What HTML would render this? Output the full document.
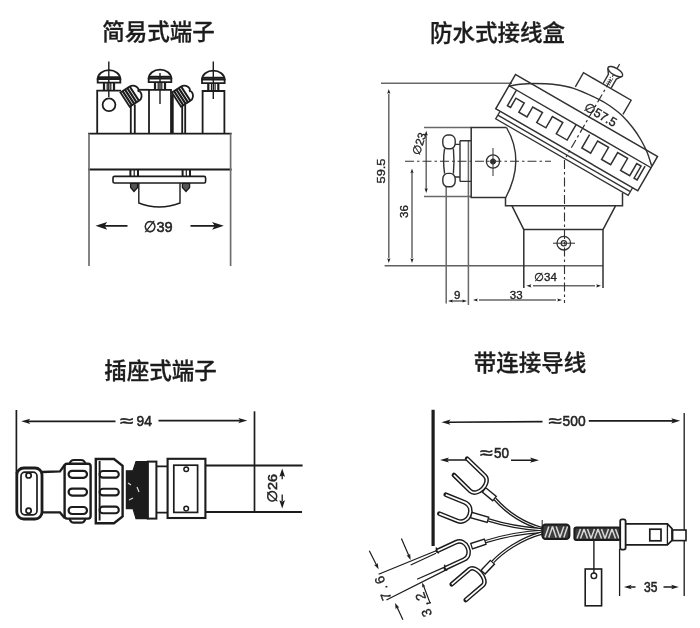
<!DOCTYPE html>
<html><head><meta charset="utf-8"><title>端子</title>
<style>
html,body{margin:0;padding:0;background:#fff;}
body{width:700px;height:628px;overflow:hidden;position:relative;}
svg{position:absolute;left:0;top:0;display:block;}
.t{font-family:"Liberation Sans","Noto Sans CJK SC",sans-serif;font-size:22.5px;font-weight:500;fill:#1c1c1c;stroke:#1c1c1c;stroke-width:0.3px;}
.d{font-family:"Liberation Sans","DejaVu Sans",sans-serif;font-size:14px;fill:#222;stroke:#222;stroke-width:0.55px;}
.s{font-family:"Liberation Sans","DejaVu Sans",sans-serif;font-size:11.5px;fill:#222;stroke:#222;stroke-width:0.35px;}
</style></head><body>
<svg width="700" height="628" viewBox="0 0 700 628">
<defs>
<filter id="bl" x="-5%" y="-5%" width="110%" height="110%"><feGaussianBlur stdDeviation="0.45"/></filter>
<path id="ah" d="M0,0 L-9,-2.6 L-7,0 L-9,2.6 Z" fill="#1c1c1c" stroke="none"/>
<path id="ahs" d="M0,0 L-6,-2 L-5,0 L-6,2 Z" fill="#1c1c1c" stroke="none"/>
<g id="screw">
 <path d="M-11.3,8 A11.3,8.8 0 0 1 11.3,8 Z" fill="#fff"/>
 <path d="M-11.3,8 H11.3 V11.6 H-11.3 Z" fill="#fff"/>
 <path d="M-5,12 V19.5 M5,12 V19.5" stroke-width="2.2"/>
 <path d="M-1.8,12 V19.5 M1.8,12 V19.5" stroke-width="1.2"/>
 <path d="M-11,6.2 H11" stroke-width="1.9"/>
</g>
</defs>
<rect width="700" height="628" fill="#fff"/>
<g filter="url(#bl)">
<!-- TITLES -->
<text class="t" x="158.6" y="40" text-anchor="middle">简易式端子</text>
<text class="t" x="497.6" y="40.8" text-anchor="middle">防水式接线盒</text>
<text class="t" x="160.4" y="379.4" text-anchor="middle">插座式端子</text>
<text class="t" x="530" y="371.2" text-anchor="middle">带连接导线</text>

<!-- ============ TOP LEFT ============ -->
<g id="tl" stroke="#1c1c1c" stroke-width="1.8" fill="none" stroke-linecap="butt" stroke-linejoin="miter">
 <path d="M88.2,133.6 H231.6 M88.2,169.5 H231.6" stroke-width="1.9"/>
 <path d="M89,133.6 V266 M230.6,133.6 V266" stroke="#707070" stroke-width="1.7"/>
 <!-- posts -->
 <path d="M97.2,133.8 V90.6 H121"/>
 <path d="M130.8,133.8 V106 M134.8,133.8 V104.5"/>
 <path d="M149,133.8 V89.8 H171 V133.8 M172.8,133.8 V95"/>
 <path d="M139,89.8 H149"/>
 <path d="M182.2,133.8 V106 M185.2,133.8 V104.5"/>
 <path d="M202.6,133.8 V91 H224.4 V133.8"/>
 <circle cx="109" cy="104.8" r="6.4"/>
 <!-- screws -->
 <use href="#screw" x="109" y="71"/>
 <use href="#screw" x="160" y="70.5"/>
 <use href="#screw" x="213.3" y="71.5"/>
 <path d="M108.8,61.5 V97 M160,73 V104 M213.3,61.5 V99" stroke-width="1.4"/>
 <!-- tilted screws -->
 <g transform="translate(131.8,95.3) rotate(-33)">
  <path d="M-8,-8.5 H3 C7,-8.5 9,-5 9,-2.5 C9,-1 8,0 7,0 C8,0 9,1 9,2.5 C9,5 7,8.5 3,8.5 H-8 Z" fill="#fff"/>
  <path d="M-5.4,-8.5 V8.5 M-2.6,-8.5 V8.5 M0.2,-8.5 V8.5 M3,-8.5 V8.5" stroke-width="2.1"/>
 </g>
 <g transform="translate(183.2,95.3) rotate(-33)">
  <path d="M-8,-8.5 H3 C7,-8.5 9,-5 9,-2.5 C9,-1 8,0 7,0 C8,0 9,1 9,2.5 C9,5 7,8.5 3,8.5 H-8 Z" fill="#fff"/>
  <path d="M-5.4,-8.5 V8.5 M-2.6,-8.5 V8.5 M0.2,-8.5 V8.5 M3,-8.5 V8.5" stroke-width="2.1"/>
 </g>
 <!-- under plate -->
 <path d="M130.6,183 V187.5 L134,191.5 L137.6,187.5 V183 Z M182.4,183 V187.5 L186,191.5 L189.6,187.5 V183 Z" stroke-width="1.3" fill="#555"/>
 <path d="M130.4,170 V176.4 M138,170 V176.4 M182.6,170 V176.4 M190,170 V176.4" stroke-width="2"/>
 <rect x="113" y="176.4" width="92.6" height="6.6" rx="1.5" fill="#fff" stroke-width="1.6"/>
 <path d="M138.8,183 V203 Q159,211 180,203 V183" stroke-width="1.4"/>
 <path d="M134.2,170 V176 M186.3,170 V176" stroke-width="1.2"/>
 <!-- dimension -->
 <path d="M103,225.8 H127.5 M190.5,225.8 H216"/>
 <use href="#ah" transform="translate(95.5,225.8) rotate(180) scale(1.3,1.5)"/>
 <use href="#ah" transform="translate(223.8,225.8) scale(1.3,1.5)"/>
</g>
<text class="d" x="158.2" y="231.6" text-anchor="middle" textLength="29" lengthAdjust="spacingAndGlyphs" style="font-size:15.5px">∅39</text>

<!-- ============ TOP RIGHT ============ -->
<g id="tr" stroke="#303030" stroke-width="1.3" fill="none">
 <!-- extension / dimension lines -->
 <path d="M381,83.3 H512" stroke="#686868" stroke-width="1.5"/>
 <path d="M384.6,265.8 H603" stroke="#606060" stroke-width="1.6"/>
 <path d="M388.8,94 V258 M412,173 V258 M426.2,135 V189" stroke="#686868" stroke-width="1.5"/>
 <use href="#ahs" transform="translate(388.8,89) rotate(-90) scale(0.8)"/>
 <use href="#ahs" transform="translate(388.8,263) rotate(90) scale(0.8)"/>
 <use href="#ahs" transform="translate(412,168.5) rotate(-90) scale(0.8)"/>
 <use href="#ahs" transform="translate(412,263) rotate(90) scale(0.8)"/>
 <use href="#ahs" transform="translate(426.2,130.8) rotate(-90) scale(0.8)"/>
 <use href="#ahs" transform="translate(426.2,193) rotate(90) scale(0.8)"/>
 <path d="M424,127.4 H471 M424,196.6 H471" stroke="#686868" stroke-width="1.5"/>
 <path d="M446.2,186 V303.5 M468.4,140.7 V305" stroke="#686868" stroke-width="1.5"/>
 <!-- 9 / 33 / 34 dims -->
 <path d="M452,301 H463 M479,300 H556 M533,285.8 H595" stroke="#686868" stroke-width="1.5"/>
 <use href="#ahs" transform="translate(448,301) rotate(180) scale(0.8)"/>
 <use href="#ahs" transform="translate(467,301) scale(0.8)"/>
 <use href="#ahs" transform="translate(473,300) rotate(180) scale(0.8)"/>
 <use href="#ahs" transform="translate(562,300) scale(0.8)"/>
 <use href="#ahs" transform="translate(526.5,285.8) rotate(180) scale(0.8)"/>
 <use href="#ahs" transform="translate(601,285.8) scale(0.8)"/>
 <!-- centre lines -->
 <path d="M405,161.2 H551" stroke-width="1.1" stroke-dasharray="9 3 2.5 3"/>
 <path d="M564.5,160 V303" stroke-width="1.1" stroke-dasharray="9 3 2.5 3"/>
 <!-- side entry body -->
 <path d="M506.5,127.5 H471.2 V197.5 H505.5 V205.8 H622.5 V193" stroke-width="1.5"/>
 <path d="M506.5,127.5 Q525.5,160 505.8,197.5" stroke-width="1.4"/>
 <!-- nut -->
 <rect x="442.8" y="135" width="12.4" height="13.8" rx="5" ry="5.5" stroke-width="1.4"/>
 <rect x="442.8" y="173.4" width="12.4" height="13.4" rx="5" ry="5.5" stroke-width="1.4"/>
 <path d="M444.6,148.5 Q442.6,161 444.6,173.6 M453.4,148.5 Q454.6,161 453.4,173.6" stroke-width="1.4"/>
 <path d="M455,144.4 H460 M455,177 H460 M460,140.7 V181.4 M460,140.7 H471 M460,181.4 H471" stroke-width="1.4"/>
 <!-- screw on side -->
 <circle cx="493" cy="161.5" r="6.6" stroke-width="1.3"/>
 <circle cx="493" cy="161.5" r="2.6" fill="#333" stroke-width="1"/>
 <path d="M493,148 V176" stroke-width="1"/>
 <!-- cone & lower cylinder -->
 <path d="M512,205.8 L523.8,229.6 M615.5,205.8 L603,229.6 M523.8,229.6 H603 M523.8,229.6 V288 M603,229.6 V288" stroke-width="1.5"/>
 <circle cx="563.8" cy="243.2" r="6.8" stroke-width="1.3"/>
 <circle cx="563.8" cy="243.2" r="2.6" stroke-width="1.2"/>
 <path d="M553,243.2 H575" stroke-width="1"/>
 <path d="M508.5,86.3 C510.4,86.0 515.6,84.8 520.0,84.3 C524.4,83.8 529.5,83.5 535.0,83.5 C540.5,83.5 546.5,83.5 552.9,84.3 C559.3,85.1 566.0,85.8 573.6,88.3 C581.2,90.8 592.7,96.3 598.8,99.3 C604.9,102.2 606.0,103.2 610.0,106.0 C614.0,108.8 618.7,112.3 622.5,116.0 C626.3,119.7 629.9,124.0 633.0,128.0 C636.1,132.0 638.7,136.0 641.0,140.0 C643.3,144.0 645.2,147.7 647.0,152.0 C648.8,156.3 650.8,163.4 651.6,165.7" stroke-width="1.4"/>
 <!-- LID (rotated 30deg) -->
 <g transform="translate(515.5,74.5) rotate(30)">
  <!-- gasket -->
  <path d="M5,39.5 V48.3 H158 V39.5 M5,44 H158" fill="none" stroke-width="1.3"/>
  <!-- axis -->
  <path d="M85,-61 V46" stroke-width="1.2" stroke-dasharray="9 3 2.5 3"/>
  <!-- boss -->
  <path d="M58,-19.2 V-35.5 H113 V-19.2" stroke-width="1.4"/>
  <!-- screw -->
  <path d="M80.4,-36 V-46.5 L77,-51.5 M89.6,-36 V-46.5 L93,-51.5" stroke-width="1.4"/>
  <path d="M83.6,-37.5 V-46 M86.4,-37.5 V-46" stroke-width="1" stroke-dasharray="1.2 1"/>
  <ellipse cx="85" cy="-52.4" rx="8.3" ry="3.5" fill="#fff" stroke-width="1.5"/>
  <!-- dome -->
  <!-- lid -->
  <rect x="0" y="0" width="164" height="39.5" stroke-width="1.5"/>
  <path d="M0,13 H164" stroke-width="1.4"/>
  <path d="M8.6,13 V31 H12.2 V20.3 H21.8 V31 H31.2 V19.5 H42.4 V31 H53 V18 H65 V31 H77.5 V13" stroke-width="1.5"/>
  <path d="M94.2,15 V30.5 H104.4 V16.5 H117 V30.5 H127.5 V16.5 H139 V30.5 H149.5 V16.5 H154.5 V30.5 H158 V14.5" stroke-width="1.5"/>
 </g>
</g>
<g>
 <text class="s" transform="translate(385.3,171) rotate(-90)" text-anchor="middle" textLength="25" lengthAdjust="spacingAndGlyphs">59.5</text>
 <text class="s" transform="translate(408.2,211.5) rotate(-90)" text-anchor="middle">36</text>
 <text class="s" transform="translate(423,145) rotate(-72)" text-anchor="middle" style="font-size:11.5px">∅23</text>
 <text class="s" x="457.2" y="299.2" text-anchor="middle">9</text>
 <text class="s" x="516.2" y="299" text-anchor="middle">33</text>
 <text class="s" x="545.5" y="281.2" text-anchor="middle">∅34</text>
 <text class="s" transform="translate(598.6,118.4) rotate(30)" text-anchor="middle" style="font-size:12.5px">∅57.5</text>
</g>
<!--TR-->
<!-- ============ BOTTOM LEFT ============ -->
<g id="bl" stroke="#1c1c1c" stroke-width="1.5" fill="none">
 <path d="M16.4,410 V474" stroke-width="1.7"/>
 <path d="M254.5,411.3 V511.8" stroke-width="1.7"/>
 <path d="M27,421.3 H115.5 M158.5,420.6 H241" stroke-width="1.8"/>
 <use href="#ah" transform="translate(21.2,421.3) rotate(180)"/>
 <use href="#ah" transform="translate(247.3,420.6)"/>
 <!-- tube -->
 <path d="M205.5,465.6 H302.6 M205.5,511.9 H302" stroke-width="2"/>
 <!-- box -->
 <rect x="167.6" y="458.8" width="37.8" height="59.2" stroke-width="2.1" fill="#fff"/>
 <rect x="173.8" y="465.2" width="23.8" height="47.2" stroke-width="1.7"/>
 <circle cx="186.2" cy="469.3" r="2.3" stroke-width="1.5"/>
 <circle cx="186.2" cy="508.6" r="2.3" stroke-width="1.5"/>
 <!-- short tube between band and box -->
 <path d="M156.5,466.4 H167.5 M156.5,512.6 H167.5" stroke-width="1.8"/>
 <!-- white band -->
 <rect x="147.8" y="461.6" width="8.6" height="57" stroke-width="2" fill="#fff"/>
 <!-- dark section -->
 <path d="M126.4,470.8 H133 L136,461.6 H147.8 V518.6 H136 L133,508.6 H126.4 Z" fill="#1e1a1a" stroke-width="1.2"/>
 <path d="M128,483 L131,485 M129,500 L133,498 M137,487 L139,492" stroke="#ddd" stroke-width="1.2"/>
 <!-- nut 2 -->
 <path d="M95.8,459 H114 L122.6,465.8 V516.4 L114,523.2 H95.8 Z" stroke-width="2.4" fill="#fff"/>
 <path d="M99.6,461 V520.5" stroke-width="1.9"/>
 <rect x="99.6" y="471" width="19.2" height="6.6" rx="3.3" stroke-width="2.1"/>
 <rect x="99.6" y="488.8" width="19.2" height="6.6" rx="3.3" stroke-width="2.1"/>
 <rect x="99.6" y="506.6" width="19.2" height="6.6" rx="3.3" stroke-width="2.1"/>
 <!-- nut 1 -->
 <path d="M69.5,464 Q70.5,460 74,460 H81 Q84.5,460 85.5,464 M69.5,518.4 Q70.5,522.6 74,522.6 H81 Q84.5,522.6 85.5,518.4" stroke-width="2.2" fill="#fff"/>
 <rect x="64.6" y="463.8" width="26" height="54.8" rx="2.5" stroke-width="2.4" fill="#fff"/>
 <rect x="68.6" y="470.8" width="18.4" height="7" rx="3.5" stroke-width="2.2"/>
 <rect x="68.6" y="488.6" width="18.4" height="7" rx="3.5" stroke-width="2.2"/>
 <rect x="68.6" y="507" width="18.4" height="7" rx="3.5" stroke-width="2.2"/>
 <!-- neck -->
 <path d="M42,472 L60,471.4 L64.6,465 M42,512.4 L60,512.4 L64.6,518" stroke-width="2.3"/>
 <!-- clamp -->
 <rect x="16.8" y="468" width="25.2" height="51" rx="7" ry="7" stroke-width="2.8" fill="#fff"/>
 <rect x="21" y="472.2" width="16" height="42.6" rx="4" stroke-width="1.7"/>
 <circle cx="28.6" cy="475.4" r="2.6" stroke-width="1.7"/>
 <circle cx="28.6" cy="510.8" r="2.6" stroke-width="1.7"/>
 <!-- 26 arrows -->
 <path d="M282.2,474 V479.2 M282.2,494.6 V501" stroke-width="1.3"/>
 <use href="#ahs" transform="translate(282.2,468.4) rotate(-90) scale(1.4)"/>
 <use href="#ahs" transform="translate(282.2,508.6) rotate(90) scale(1.4)"/>
</g>
<g>
 <text class="d" x="120" y="426" style="font-size:15px" textLength="13" lengthAdjust="spacingAndGlyphs">≈</text>
 <text class="d" x="136.6" y="426" style="font-size:15px" textLength="15.4" lengthAdjust="spacingAndGlyphs">94</text>
 <text class="d" transform="translate(276.8,488.2) rotate(-90)" text-anchor="middle" textLength="28.4" lengthAdjust="spacingAndGlyphs" style="font-size:13.5px">∅26</text>
</g>
<!--BL-->
<!-- ============ BOTTOM RIGHT ============ -->
<g id="br" stroke="#1c1c1c" stroke-width="1.4" fill="none">
 <path d="M433.1,409.8 V546" stroke-width="3.2"/>
 <path d="M684.2,413 V596 M619.6,549 V596" stroke-width="1.3"/>
 <path d="M448,422.2 L542.5,421.6 M588.8,420.9 H674" stroke-width="1.6"/>
 <use href="#ah" transform="translate(441.5,422.2) rotate(180)"/>
 <use href="#ah" transform="translate(680.2,420.8)"/>
 <path d="M446,460 H466 M511,460.2 H533" stroke-width="1.4"/>
 <use href="#ah" transform="translate(440,460) rotate(180)"/>
 <use href="#ah" transform="translate(539,460.2)"/>
 <path d="M630,587 H635.5 M663.5,587 H673" stroke-width="1.4"/>
 <use href="#ah" transform="translate(624,587) rotate(180) scale(0.85)"/>
 <use href="#ah" transform="translate(678.8,587) scale(0.85)"/>
 <path d="M437.9,550 L378.6,574.3 M436,553.2 L410.7,565 M445.7,566.6 L417.1,579.3 M446.6,569.6 L386.4,600" stroke-width="1.2"/>
 <path d="M436,547.5 L438.6,553.5 M444.4,564.8 L447,570.6" stroke-width="1.4"/>
 <path d="M369.3,550.7 L376.6,565.3 M401.4,538.6 L409,556 M402.9,619.7 L397,607 M423.6,586 L430,602.9 M427,603.6 L431,602.6" stroke-width="1.2"/>
 <use href="#ahs" transform="translate(378.6,569.3) rotate(63)"/>
 <use href="#ahs" transform="translate(410.7,560) rotate(66)"/>
 <use href="#ahs" transform="translate(395,602.9) rotate(-115)"/>
 <use href="#ahs" transform="translate(422.1,582.6) rotate(-111) scale(0.8)"/>
 <g stroke-linejoin="round">
  <path d="M495,499 C503,508 518,522 542,528.6" stroke="#1c1c1c" stroke-width="3.5" stroke-linecap="butt"/><path d="M495,499 C503,508 518,522 542,528.6" stroke="#fff" stroke-width="1.1" stroke-linecap="butt"/>
  <path d="M488.6,520 C500,523.6 520,528 542,529.8" stroke="#1c1c1c" stroke-width="3.5" stroke-linecap="butt"/><path d="M488.6,520 C500,523.6 520,528 542,529.8" stroke="#fff" stroke-width="1.1" stroke-linecap="butt"/>
  <path d="M485.7,541.6 C500,537 520,532.6 542,531.4" stroke="#1c1c1c" stroke-width="3.5" stroke-linecap="butt"/><path d="M485.7,541.6 C500,537 520,532.6 542,531.4" stroke="#fff" stroke-width="1.1" stroke-linecap="butt"/>
  <path d="M492.9,561.8 C502,552 520,539 542,533" stroke="#1c1c1c" stroke-width="3.5" stroke-linecap="butt"/><path d="M492.9,561.8 C502,552 520,539 542,533" stroke="#fff" stroke-width="1.1" stroke-linecap="butt"/>
  <path d="M467.1,458.6 L484.7,475.7 C491.9,482.7 477.3,497.8 470.1,490.8 L453.9,475" stroke="#1c1c1c" stroke-width="4.6" stroke-linecap="round"/><path d="M467.1,458.6 L484.7,475.7 C491.9,482.7 477.3,497.8 470.1,490.8 L453.9,475" stroke="#fff" stroke-width="1.7" stroke-linecap="butt"/>
  <path d="M445.7,494.7 L464.7,502.4 C476.2,507.1 468.7,525.5 457.2,520.8 L439.3,513.6" stroke="#1c1c1c" stroke-width="4.6" stroke-linecap="round"/><path d="M445.7,494.7 L464.7,502.4 C476.2,507.1 468.7,525.5 457.2,520.8 L439.3,513.6" stroke="#fff" stroke-width="1.7" stroke-linecap="butt"/>
  <path d="M437.7,550.7 L456,542.2 C466,537.5 474.1,554.9 464.1,559.5 L445.7,568.1" stroke="#1c1c1c" stroke-width="4.6" stroke-linecap="round"/><path d="M437.7,550.7 L456,542.2 C466,537.5 474.1,554.9 464.1,559.5 L445.7,568.1" stroke="#fff" stroke-width="1.7" stroke-linecap="butt"/>
  <path d="M451.7,584.3 L469.3,569.3 C475.4,564.1 489,580.1 482.9,585.3 L465.7,600" stroke="#1c1c1c" stroke-width="4.6" stroke-linecap="round"/><path d="M451.7,584.3 L469.3,569.3 C475.4,564.1 489,580.1 482.9,585.3 L465.7,600" stroke="#fff" stroke-width="1.7" stroke-linecap="butt"/>
  <path d="M483.6,489.6 L495,499" stroke="#1c1c1c" stroke-width="7" stroke-linecap="butt"/><path d="M484.6,490.4 L494.0,498.2" stroke="#fff" stroke-width="4.1" stroke-linecap="butt"/>
  <path d="M470.6,514.9 L488.6,520" stroke="#1c1c1c" stroke-width="7" stroke-linecap="butt"/><path d="M471.9,515.3 L487.3,519.6" stroke="#fff" stroke-width="4.1" stroke-linecap="butt"/>
  <path d="M471,546.4 L485.8,541.5" stroke="#1c1c1c" stroke-width="7" stroke-linecap="butt"/><path d="M472.2,546.0 L484.6,541.9" stroke="#fff" stroke-width="4.1" stroke-linecap="butt"/>
  <path d="M482.6,572.6 L492.9,561.8" stroke="#1c1c1c" stroke-width="7" stroke-linecap="butt"/><path d="M483.5,571.7 L492.0,562.7" stroke="#fff" stroke-width="4.1" stroke-linecap="butt"/>
 </g>
 <rect x="542.4" y="524.6" width="27" height="14.4" rx="3.2" fill="#3c3c3c" stroke-width="2"/>
 <path d="M542.2,520 V536" stroke-width="1"/>
 <rect x="574.4" y="527.4" width="46" height="12.6" rx="2" fill="#3c3c3c" stroke-width="2"/>
 <path d="M545.0,537.4 L548.8,526.6 M548.8,537.4 L552.5,526.6 M552.5,526.6 L556.2,537.4 M556.2,526.6 L560.0,537.4 M560.0,537.4 L563.8,526.6 M563.8,537.4 L567.5,526.6 M577.0,538.6 L580.5,529.0 M580.5,538.6 L584.0,529.0 M584.0,529.0 L587.5,538.6 M587.5,529.0 L591.0,538.6 M591.0,538.6 L594.5,529.0 M594.5,538.6 L598.0,529.0 M598.0,529.0 L601.5,538.6 M601.5,529.0 L605.0,538.6 M605.0,538.6 L608.5,529.0 M608.5,538.6 L612.0,529.0 M612.0,529.0 L615.5,538.6 M615.5,529.0 L619.0,538.6" stroke="#d8d8d8" stroke-width="1.5"/>
 <!-- flange/body -->
 <rect x="620.2" y="519.4" width="5.4" height="30.2" rx="1.8" fill="#fff" stroke-width="1.8"/>
 <path d="M625.6,523.8 H667.4 L672,528.6 V540.4 L667.4,544.8 H625.6" stroke-width="1.7"/>
 <path d="M667.4,523.8 V544.8" stroke-width="1.3"/>
 <rect x="649.8" y="529.2" width="11.2" height="11.6" stroke-width="1.7"/>
 <rect x="672.6" y="530" width="13.4" height="10.6" stroke-width="1.6" fill="#fff"/>
 <!-- tag -->
 <path d="M593.9,540 V573" stroke-width="1.4"/>
 <rect x="585.2" y="569" width="16.4" height="36.8" stroke-width="1.6"/>
 <circle cx="593.9" cy="575.8" r="2.8" fill="#fff" stroke-width="1.4"/>
</g>
<g>
 <text class="d" x="548.6" y="426.2" style="font-size:15px" textLength="13" lengthAdjust="spacingAndGlyphs">≈</text>
 <text class="d" x="562.6" y="426.2" style="font-size:15px" textLength="23" lengthAdjust="spacingAndGlyphs">500</text>
 <text class="d" x="480" y="457.9" style="font-size:15px" textLength="12.5" lengthAdjust="spacingAndGlyphs">≈</text>
 <text class="d" x="494" y="457.9" style="font-size:15px" textLength="15" lengthAdjust="spacingAndGlyphs">50</text>
 <text class="d" x="644" y="592.4" style="font-size:14.5px" textLength="13.4" lengthAdjust="spacingAndGlyphs">35</text>
 <text class="s" transform="translate(391.5,598.3) rotate(-110)" style="font-size:13.5px;letter-spacing:3.1px">7.6</text>
 <text class="s" transform="translate(432.2,614.8) rotate(-110)" style="font-size:13.5px;letter-spacing:3px">3.2</text>
</g>
<!--BR-->
</g>
</svg>
</body></html>
